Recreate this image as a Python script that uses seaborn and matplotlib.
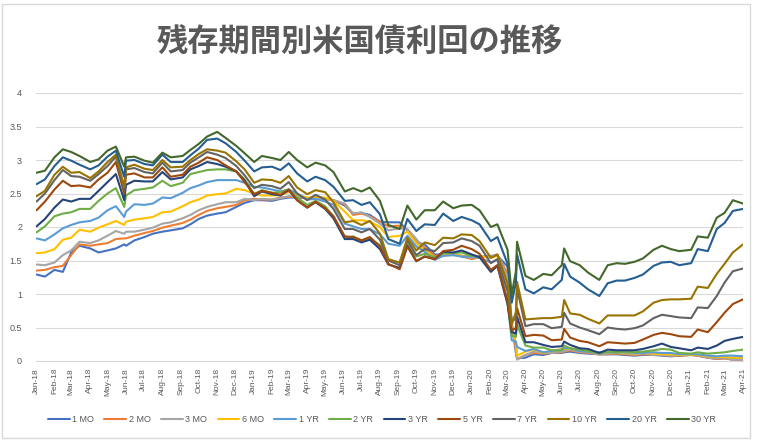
import numpy as np
import pandas as pd
import matplotlib
matplotlib.use("Agg")
import matplotlib.pyplot as plt
import seaborn as sns
from matplotlib.lines import Line2D
from matplotlib.patches import Rectangle

# ---------------- data ----------------
dates = (
    ["2018-01-02", "2018-01-16", "2018-02-01", "2018-02-15", "2018-03-01", "2018-03-15",
     "2018-04-02", "2018-04-16", "2018-05-01", "2018-05-15", "2018-05-29", "2018-06-01",
     "2018-06-15", "2018-07-02", "2018-07-16", "2018-08-01", "2018-08-15", "2018-09-04",
     "2018-09-17", "2018-10-01", "2018-10-15", "2018-11-01", "2018-11-15", "2018-12-03",
     "2018-12-17"]
    + ["2019-01-02", "2019-01-15", "2019-02-01", "2019-02-15", "2019-03-01", "2019-03-15",
       "2019-04-01", "2019-04-15", "2019-05-01", "2019-05-15", "2019-06-03", "2019-06-17",
       "2019-07-01", "2019-07-15", "2019-08-01", "2019-08-15", "2019-09-03", "2019-09-16",
       "2019-10-01", "2019-10-15", "2019-11-01", "2019-11-15", "2019-12-02", "2019-12-16"]
    + ["2020-01-02", "2020-01-15", "2020-02-03", "2020-02-14", "2020-03-02", "2020-03-09",
       "2020-03-16", "2020-03-18", "2020-04-01", "2020-04-15", "2020-05-01", "2020-05-15",
       "2020-06-01", "2020-06-05", "2020-06-15", "2020-07-01", "2020-07-15", "2020-08-03",
       "2020-08-17", "2020-09-01", "2020-09-15", "2020-10-01", "2020-10-15", "2020-11-02",
       "2020-11-16", "2020-12-01", "2020-12-15"]
    + ["2021-01-04", "2021-01-15", "2021-02-01", "2021-02-16", "2021-03-01", "2021-03-15",
       "2021-04-01"]
)

mo1 = ([1.29, 1.26, 1.36, 1.33, 1.62, 1.72, 1.68, 1.62, 1.65, 1.68, 1.74, 1.72, 1.80, 1.85, 1.90, 1.93, 1.95, 1.98, 2.04, 2.12, 2.17, 2.20, 2.22, 2.30, 2.36]
       + [2.40, 2.40, 2.39, 2.42, 2.44, 2.44, 2.43, 2.43, 2.42, 2.40, 2.32, 2.20, 2.21, 2.18, 2.08, 2.07, 2.07, 1.95, 1.77, 1.74, 1.59, 1.59, 1.60, 1.56]
       + [1.53, 1.55, 1.57, 1.57, 1.41, 0.57, 0.12, 0.04, 0.05, 0.10, 0.09, 0.12, 0.12, 0.13, 0.14, 0.12, 0.11, 0.10, 0.10, 0.10, 0.09, 0.08, 0.09, 0.09, 0.08, 0.07, 0.08]
       + [0.09, 0.08, 0.05, 0.03, 0.04, 0.02, 0.02])
mo2 = ([1.35, 1.36, 1.40, 1.42, 1.58, 1.74, 1.72, 1.74, 1.76, 1.82, 1.83, 1.83, 1.87, 1.91, 1.94, 1.99, 2.02, 2.06, 2.11, 2.18, 2.24, 2.28, 2.30, 2.33, 2.40]
       + [2.42, 2.41, 2.41, 2.44, 2.45, 2.45, 2.43, 2.44, 2.42, 2.40, 2.34, 2.18, 2.20, 2.16, 2.08, 2.01, 2.02, 1.96, 1.80, 1.70, 1.57, 1.58, 1.59, 1.57]
       + [1.52, 1.55, 1.56, 1.58, 1.31, 0.55, 0.17, 0.03, 0.09, 0.12, 0.11, 0.12, 0.13, 0.14, 0.16, 0.13, 0.12, 0.10, 0.10, 0.11, 0.10, 0.09, 0.10, 0.09, 0.09, 0.08, 0.08]
       + [0.09, 0.08, 0.05, 0.03, 0.04, 0.02, 0.02])
mo3 = ([1.44, 1.43, 1.47, 1.58, 1.65, 1.78, 1.76, 1.80, 1.87, 1.94, 1.90, 1.93, 1.93, 1.96, 1.99, 2.05, 2.07, 2.13, 2.18, 2.25, 2.30, 2.34, 2.37, 2.37, 2.42]
       + [2.40, 2.42, 2.41, 2.43, 2.46, 2.46, 2.43, 2.43, 2.43, 2.40, 2.35, 2.20, 2.22, 2.15, 2.05, 1.95, 1.98, 1.97, 1.82, 1.66, 1.54, 1.58, 1.58, 1.57]
       + [1.54, 1.56, 1.56, 1.59, 1.25, 0.57, 0.24, 0.02, 0.09, 0.14, 0.12, 0.12, 0.14, 0.15, 0.17, 0.14, 0.13, 0.10, 0.11, 0.12, 0.11, 0.10, 0.11, 0.09, 0.09, 0.08, 0.09]
       + [0.09, 0.09, 0.05, 0.04, 0.05, 0.02, 0.02])
mo6 = ([1.61, 1.62, 1.67, 1.81, 1.84, 1.96, 1.93, 1.99, 2.04, 2.09, 2.03, 2.08, 2.11, 2.13, 2.15, 2.22, 2.23, 2.31, 2.37, 2.41, 2.47, 2.49, 2.50, 2.57, 2.55]
       + [2.50, 2.47, 2.47, 2.48, 2.52, 2.48, 2.44, 2.45, 2.44, 2.39, 2.23, 2.10, 2.10, 2.08, 2.00, 1.85, 1.87, 1.93, 1.76, 1.65, 1.54, 1.57, 1.60, 1.57]
       + [1.57, 1.56, 1.54, 1.57, 1.11, 0.43, 0.28, 0.08, 0.14, 0.17, 0.12, 0.15, 0.18, 0.18, 0.18, 0.16, 0.15, 0.12, 0.13, 0.13, 0.12, 0.11, 0.12, 0.11, 0.10, 0.10, 0.09]
       + [0.09, 0.09, 0.07, 0.06, 0.06, 0.05, 0.05])
yr1 = ([1.83, 1.80, 1.89, 1.98, 2.03, 2.07, 2.09, 2.14, 2.25, 2.31, 2.15, 2.23, 2.34, 2.33, 2.35, 2.44, 2.43, 2.51, 2.58, 2.62, 2.67, 2.70, 2.70, 2.70, 2.66]
       + [2.60, 2.59, 2.56, 2.53, 2.56, 2.50, 2.41, 2.42, 2.38, 2.33, 2.05, 2.01, 1.97, 1.97, 1.89, 1.75, 1.72, 1.87, 1.71, 1.63, 1.51, 1.57, 1.58, 1.56]
       + [1.56, 1.54, 1.47, 1.51, 0.89, 0.31, 0.29, 0.21, 0.15, 0.18, 0.13, 0.15, 0.17, 0.19, 0.19, 0.15, 0.14, 0.13, 0.13, 0.13, 0.13, 0.12, 0.12, 0.13, 0.12, 0.12, 0.10]
       + [0.10, 0.10, 0.08, 0.07, 0.08, 0.08, 0.07])
yr2 = ([1.92, 2.01, 2.16, 2.20, 2.22, 2.27, 2.27, 2.39, 2.50, 2.58, 2.30, 2.47, 2.55, 2.57, 2.59, 2.69, 2.61, 2.66, 2.79, 2.82, 2.85, 2.86, 2.86, 2.83, 2.71]
       + [2.49, 2.55, 2.51, 2.52, 2.56, 2.44, 2.33, 2.39, 2.31, 2.16, 1.83, 1.86, 1.80, 1.83, 1.73, 1.50, 1.47, 1.74, 1.56, 1.60, 1.55, 1.61, 1.61, 1.62]
       + [1.57, 1.56, 1.35, 1.43, 0.87, 0.38, 0.36, 0.54, 0.23, 0.20, 0.20, 0.16, 0.16, 0.23, 0.19, 0.17, 0.15, 0.11, 0.14, 0.13, 0.14, 0.13, 0.14, 0.16, 0.18, 0.17, 0.12]
       + [0.11, 0.13, 0.11, 0.12, 0.13, 0.15, 0.17])
yr3 = ([2.01, 2.12, 2.29, 2.41, 2.38, 2.42, 2.42, 2.54, 2.67, 2.79, 2.40, 2.63, 2.69, 2.68, 2.68, 2.82, 2.71, 2.74, 2.86, 2.91, 2.97, 2.94, 2.90, 2.83, 2.69]
       + [2.46, 2.53, 2.49, 2.47, 2.55, 2.40, 2.29, 2.37, 2.27, 2.13, 1.82, 1.82, 1.77, 1.81, 1.67, 1.44, 1.39, 1.72, 1.49, 1.56, 1.52, 1.63, 1.62, 1.65]
       + [1.59, 1.55, 1.33, 1.42, 0.85, 0.43, 0.41, 0.66, 0.28, 0.28, 0.24, 0.21, 0.22, 0.29, 0.24, 0.19, 0.18, 0.12, 0.17, 0.16, 0.16, 0.16, 0.18, 0.22, 0.26, 0.21, 0.19]
       + [0.16, 0.20, 0.18, 0.23, 0.30, 0.33, 0.36])
yr5 = ([2.25, 2.38, 2.56, 2.69, 2.61, 2.62, 2.59, 2.71, 2.81, 2.97, 2.50, 2.78, 2.80, 2.74, 2.74, 2.89, 2.75, 2.78, 2.90, 2.96, 3.04, 3.00, 2.92, 2.83, 2.67]
       + [2.49, 2.54, 2.51, 2.48, 2.56, 2.40, 2.29, 2.38, 2.28, 2.16, 1.86, 1.85, 1.80, 1.85, 1.71, 1.45, 1.37, 1.71, 1.49, 1.56, 1.52, 1.64, 1.66, 1.72]
       + [1.67, 1.60, 1.36, 1.43, 0.89, 0.46, 0.49, 0.79, 0.37, 0.39, 0.38, 0.31, 0.32, 0.48, 0.35, 0.30, 0.28, 0.22, 0.28, 0.27, 0.26, 0.27, 0.32, 0.39, 0.42, 0.40, 0.37]
       + [0.36, 0.47, 0.43, 0.58, 0.72, 0.85, 0.92])
yr7 = ([2.38, 2.50, 2.70, 2.85, 2.76, 2.75, 2.69, 2.79, 2.91, 3.05, 2.55, 2.86, 2.88, 2.82, 2.80, 2.96, 2.83, 2.85, 2.96, 3.04, 3.12, 3.08, 3.03, 2.91, 2.77]
       + [2.58, 2.63, 2.61, 2.57, 2.67, 2.50, 2.40, 2.48, 2.41, 2.27, 1.97, 1.97, 1.92, 1.97, 1.81, 1.50, 1.43, 1.80, 1.58, 1.67, 1.64, 1.76, 1.77, 1.83]
       + [1.79, 1.72, 1.46, 1.52, 1.04, 0.61, 0.62, 1.08, 0.52, 0.55, 0.55, 0.49, 0.51, 0.72, 0.56, 0.50, 0.46, 0.40, 0.50, 0.48, 0.47, 0.49, 0.53, 0.64, 0.69, 0.67, 0.65]
       + [0.64, 0.80, 0.79, 0.97, 1.17, 1.34, 1.38])
yr10 = ([2.46, 2.54, 2.78, 2.90, 2.81, 2.82, 2.73, 2.83, 2.97, 3.08, 2.60, 2.89, 2.93, 2.87, 2.85, 3.00, 2.89, 2.90, 3.00, 3.09, 3.16, 3.14, 3.11, 2.98, 2.86]
        + [2.66, 2.71, 2.70, 2.66, 2.76, 2.59, 2.49, 2.55, 2.52, 2.37, 2.07, 2.09, 2.03, 2.09, 1.90, 1.52, 1.47, 1.84, 1.65, 1.77, 1.73, 1.84, 1.83, 1.89]
        + [1.88, 1.79, 1.54, 1.59, 1.16, 0.54, 0.73, 1.18, 0.62, 0.63, 0.64, 0.64, 0.66, 0.91, 0.71, 0.69, 0.63, 0.56, 0.68, 0.68, 0.68, 0.68, 0.74, 0.87, 0.91, 0.92, 0.92]
        + [0.93, 1.11, 1.09, 1.30, 1.45, 1.62, 1.74])
yr20 = ([2.64, 2.71, 2.91, 3.04, 2.99, 2.93, 2.86, 2.92, 3.05, 3.14, 2.75, 2.99, 3.00, 2.94, 2.92, 3.08, 2.97, 2.97, 3.07, 3.17, 3.30, 3.32, 3.25, 3.12, 2.99]
        + [2.83, 2.89, 2.90, 2.85, 2.95, 2.80, 2.68, 2.75, 2.70, 2.60, 2.39, 2.40, 2.33, 2.37, 2.19, 1.82, 1.75, 2.12, 1.94, 2.04, 2.03, 2.20, 2.09, 2.15]
        + [2.10, 2.04, 1.79, 1.85, 1.45, 0.87, 1.17, 1.59, 1.07, 1.01, 1.10, 1.07, 1.21, 1.45, 1.26, 1.17, 1.07, 0.97, 1.16, 1.20, 1.20, 1.24, 1.29, 1.42, 1.47, 1.48, 1.43]
        + [1.46, 1.67, 1.64, 1.97, 2.06, 2.24, 2.27])
yr30 = ([2.81, 2.84, 3.04, 3.16, 3.12, 3.06, 2.97, 3.01, 3.14, 3.20, 2.90, 3.04, 3.05, 2.99, 2.96, 3.11, 3.04, 3.06, 3.15, 3.24, 3.35, 3.42, 3.33, 3.21, 3.10]
        + [2.97, 3.06, 3.03, 3.00, 3.12, 3.00, 2.89, 2.96, 2.92, 2.82, 2.53, 2.58, 2.53, 2.59, 2.39, 2.03, 1.97, 2.32, 2.11, 2.25, 2.25, 2.38, 2.28, 2.32]
        + [2.33, 2.25, 2.00, 2.04, 1.66, 0.99, 1.34, 1.78, 1.27, 1.21, 1.30, 1.28, 1.43, 1.68, 1.49, 1.43, 1.32, 1.21, 1.43, 1.46, 1.45, 1.48, 1.53, 1.66, 1.72, 1.67, 1.64]
        + [1.66, 1.86, 1.84, 2.14, 2.21, 2.40, 2.35])

series_names = ["1 MO", "2 MO", "3 MO", "6 MO", "1 YR", "2 YR",
                "3 YR", "5 YR", "7 YR", "10 YR", "20 YR", "30 YR"]
series_values = [mo1, mo2, mo3, mo6, yr1, yr2, yr3, yr5, yr7, yr10, yr20, yr30]
colors = ["#4472C4", "#ED7D31", "#A5A5A5", "#FFC000", "#5B9BD5", "#70AD47",
          "#264478", "#9E480E", "#636363", "#997300", "#255E91", "#43682B"]
title = "残存期間別米国債利回の推移"
y_ticks = [0, 0.5, 1, 1.5, 2, 2.5, 3, 3.5, 4]
y_tick_labels = ["0", "0.5", "1", "1.5", "2", "2.5", "3", "3.5", "4"]

# ---------------- build table ----------------
wide = pd.DataFrame({name: vals for name, vals in zip(series_names, series_values)})
wide["date"] = pd.to_datetime(dates)
long = wide.melt(id_vars="date", var_name="series", value_name="yield")

# ---------------- plot ----------------
sns.set_theme(style="white")
plt.rcParams["font.family"] = ["Liberation Sans Narrow", "Liberation Sans", "DejaVu Sans"]

W, H = 760, 441
fig = plt.figure(figsize=(W / 100, H / 100), dpi=100)
fig.patch.set_facecolor("white")
ax = fig.add_axes([36 / W, 1 - 361 / H, (743 - 36) / W, (361 - 93) / H])

sns.lineplot(data=long, x="date", y="yield", hue="series", hue_order=series_names,
             palette=dict(zip(series_names, colors)), linewidth=1.5, ax=ax,
             legend=False, estimator=None)

ax.set_ylim(0, 4)
ax.set_yticks(y_ticks)
ax.set_yticklabels(y_tick_labels, fontsize=6.5, color="#595959")
ax.set_xlim(pd.Timestamp("2018-01-01"), pd.Timestamp("2021-04-01"))
month_ticks = pd.date_range("2018-01-01", "2021-04-01", freq="MS")
ax.set_xticks(month_ticks)
ax.set_xticklabels([t.strftime("%b-%y") for t in month_ticks], rotation=90,
                   fontsize=6.0, color="#595959")
ax.set_xlabel("")
ax.set_ylabel("")
ax.grid(axis="y", color="#D9D9D9", linewidth=0.8)
ax.grid(axis="x", visible=False)
for s in ["top", "right", "left"]:
    ax.spines[s].set_visible(False)
ax.spines["bottom"].set_color("#D9D9D9")
ax.spines["bottom"].set_linewidth(0.8)
ax.tick_params(axis="x", length=3, width=0.8, color="#D9D9D9", pad=2, direction="out")
ax.tick_params(axis="y", length=0, pad=10)

handles = [Line2D([0], [0], color=c, lw=1.5) for c in colors]
fig.legend(handles, series_names, loc="center", bbox_to_anchor=(382 / W, 1 - 420 / H),
           ncol=12, frameon=False, fontsize=6.5, handlelength=2.4, handletextpad=0.3,
           columnspacing=1.15, labelcolor="#595959")

fig.text(0.474, 1 - 43 / H, title, ha="center", va="center", fontsize=22.5,
         fontweight="bold", color="#595959",
         family=["Noto Sans CJK JP", "DejaVu Sans"])

fig.add_artist(Rectangle((2 / W, 3 / H), 748 / W, 434 / H, transform=fig.transFigure,
                         fill=False, edgecolor="#D9D9D9", linewidth=1.0))

fig.savefig("out.png", dpi=100, facecolor="white")
